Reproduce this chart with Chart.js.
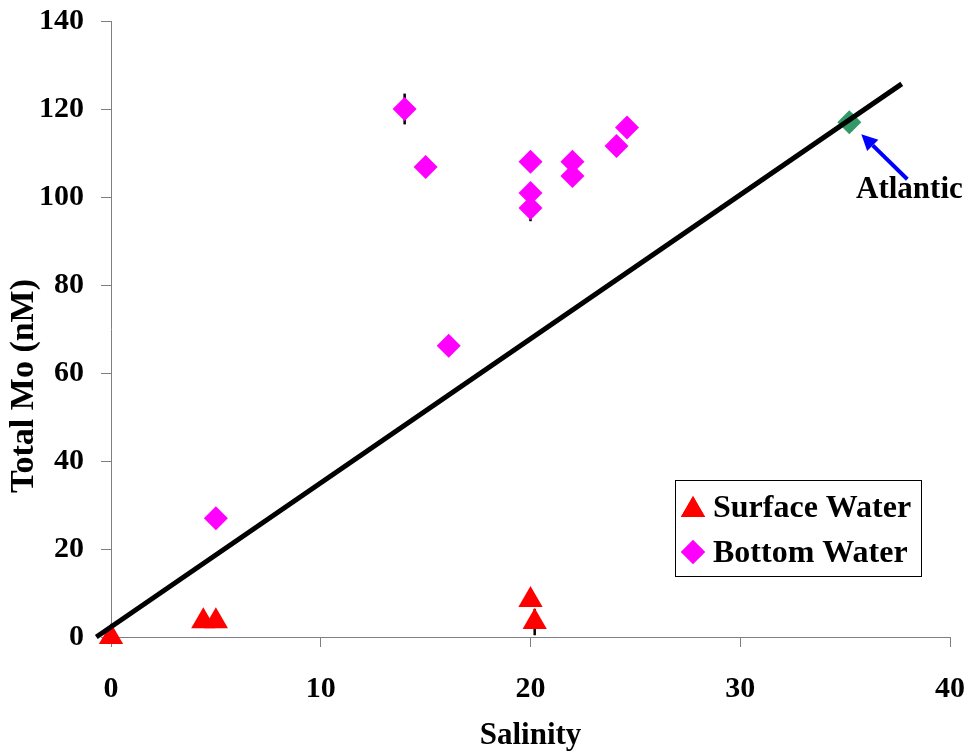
<!DOCTYPE html>
<html>
<head>
<meta charset="utf-8">
<script src="https://cdn.jsdelivr.net/npm/chart.js@4"></script>
<style>
    html, body { margin: 0; padding: 0; background: #fff; }
    #wrap { width: 972px; height: 755px; }
</style>
</head>
<body>
<div id="wrap"><canvas id="moChart" width="972" height="755"></canvas></div>
<script>
// Surface water samples
const surfSalinity = [0, 4.4, 5.0, 20.0, 20.2];
const surfMo = [0, 3.6, 3.6, 8.4, 3.4];
const surfErr = [0, 0, 0, 0, 3];

// Bottom water samples
const bottomSalinity = [5.0, 14.0, 15.0, 16.1, 20.0, 20.0, 20.0, 22.0, 22.0, 24.1, 24.6];
const bottomMo = [27, 120, 106.8, 66.2, 108, 100.9, 97.5, 108, 104.8, 111.6, 115.8];
const bottomErr = [0, 3.5, 0, 0, 0, 0, 3, 0, 0, 0, 0];

// Atlantic end member
const atlanticSalinity = [35.2];
const atlanticMo = [117];

// Conservative mixing line
const fitSalinity = [-0.7, 37.7];
const fitMo = [0, 125.7];

const xTicks = [0, 10, 20, 30, 40];
const yTicks = [0, 20, 40, 60, 80, 100, 120, 140];

const SERIF = '"Liberation Serif", "Times New Roman", Times, serif';
const AXIS_GRAY = '#7f7f7f';

function toPoints(xs, ys) {
    return xs.map((x, i) => ({ x: x, y: ys[i] }));
}

// Fix the axis box size and drop the automatic label padding
function fitAxis(size, isX) {
    return function (s) {
        if (isX) s.height = size; else s.width = size;
        s.paddingTop = 0;
        s.paddingBottom = 0;
        s.paddingLeft = 0;
        s.paddingRight = 0;
    };
}

/**
 * Error bars, axis titles, legend box and the Atlantic arrow
 */
const extrasPlugin = {
    id: 'extras',
    beforeDatasetsDraw(chart) {
        const ctx = chart.ctx;
        const xs = chart.scales.x;
        const ys = chart.scales.y;
        ctx.save();
        ctx.strokeStyle = '#000';
        ctx.lineWidth = 2.5;
        const bars = [[surfSalinity, surfMo, surfErr], [bottomSalinity, bottomMo, bottomErr]];
        bars.forEach(([sx, sy, se]) => {
            sx.forEach((x, i) => {
                if (!se[i]) return;
                const px = xs.getPixelForValue(x);
                ctx.beginPath();
                ctx.moveTo(px, ys.getPixelForValue(sy[i] - se[i]));
                ctx.lineTo(px, ys.getPixelForValue(sy[i] + se[i]));
                ctx.stroke();
            });
        });
        ctx.restore();
    },
    afterDraw(chart) {
        const ctx = chart.ctx;
        const area = chart.chartArea;
        const xs = chart.scales.x;
        const ys = chart.scales.y;
        ctx.save();

        // axis titles
        ctx.fillStyle = '#000';
        ctx.textAlign = 'center';
        ctx.textBaseline = 'alphabetic';
        ctx.font = 'bold 31px ' + SERIF;
        ctx.fillText('Salinity', (area.left + area.right) / 2, 744);
        ctx.save();
        ctx.translate(33, 386);
        ctx.rotate(-Math.PI / 2);
        ctx.font = 'bold 34px ' + SERIF;
        ctx.fillText('Total Mo (nM)', 0, 0);
        ctx.restore();

        // legend
        ctx.strokeStyle = '#000';
        ctx.lineWidth = 1;
        ctx.strokeRect(675.5, 480.5, 246, 96);
        ctx.textAlign = 'left';
        ctx.font = 'bold 32px ' + SERIF;
        ctx.fillStyle = '#ff0000';
        ctx.beginPath();
        Chart.helpers.drawPoint(ctx, { pointStyle: 'triangle', radius: 14, borderWidth: 0 }, 693, 510);
        ctx.fill();
        ctx.fillStyle = '#ff00ff';
        ctx.beginPath();
        Chart.helpers.drawPoint(ctx, { pointStyle: 'rectRot', radius: 12, borderWidth: 0 }, 693, 552);
        ctx.fill();
        ctx.fillStyle = '#000';
        ctx.fillText('Surface Water', 713, 517);
        ctx.fillText('Bottom Water', 713, 562);

        // Atlantic arrow and label
        const ax = xs.getPixelForValue(atlanticSalinity[0]);
        const ay = ys.getPixelForValue(atlanticMo[0]);
        const tipX = ax + 12, tipY = ay + 12;
        const tailX = ax + 58, tailY = ay + 57;
        const ang = Math.atan2(tipY - tailY, tipX - tailX);
        const headLen = 16, headW = 8;
        const baseX = tipX - headLen * Math.cos(ang);
        const baseY = tipY - headLen * Math.sin(ang);
        ctx.strokeStyle = '#0000ff';
        ctx.fillStyle = '#0000ff';
        ctx.lineWidth = 4;
        ctx.beginPath();
        ctx.moveTo(tailX, tailY);
        ctx.lineTo(baseX, baseY);
        ctx.stroke();
        ctx.beginPath();
        ctx.moveTo(tipX, tipY);
        ctx.lineTo(baseX + headW * Math.sin(ang), baseY - headW * Math.cos(ang));
        ctx.lineTo(baseX - headW * Math.sin(ang), baseY + headW * Math.cos(ang));
        ctx.closePath();
        ctx.fill();
        ctx.fillStyle = '#000';
        ctx.font = 'bold 31px ' + SERIF;
        ctx.fillText('Atlantic', 856, 198);

        ctx.restore();
    },
};

const tickFont = { family: SERIF, size: 30, weight: 'bold' };

new Chart(document.getElementById('moChart').getContext('2d'), {
    type: 'scatter',
    data: {
        datasets: [
            {
                label: 'Mixing line',
                data: toPoints(fitSalinity, fitMo),
                showLine: true,
                borderColor: '#000',
                borderWidth: 5,
                pointRadius: 0,
                clip: false,
            },
            {
                label: 'Surface Water',
                data: toPoints(surfSalinity, surfMo),
                pointStyle: 'triangle',
                pointRadius: 14,
                backgroundColor: '#ff0000',
                borderWidth: 0,
                clip: false,
            },
            {
                label: 'Bottom Water',
                data: toPoints(bottomSalinity, bottomMo),
                pointStyle: 'rectRot',
                pointRadius: 12,
                backgroundColor: '#ff00ff',
                borderWidth: 0,
                clip: false,
            },
            {
                label: 'Atlantic',
                data: toPoints(atlanticSalinity, atlanticMo),
                pointStyle: 'rectRot',
                pointRadius: 12,
                backgroundColor: '#339966',
                borderWidth: 0,
                clip: false,
            },
        ],
    },
    options: {
        responsive: false,
        animation: false,
        events: [],
        devicePixelRatio: 1,
        layout: { padding: { left: 0, right: 22, top: 21, bottom: 0 } },
        scales: {
            x: {
                type: 'linear',
                min: 0,
                max: 40,
                afterBuildTicks: (s) => { s.ticks = xTicks.map((v) => ({ value: v })); },
                afterFit: fitAxis(118, true),
                ticks: { font: tickFont, color: '#000', padding: 24, maxRotation: 0 },
                grid: { display: true, drawOnChartArea: false, tickLength: 10, color: AXIS_GRAY },
                border: { color: AXIS_GRAY, width: 1 },
            },
            y: {
                type: 'linear',
                min: 0,
                max: 140,
                afterBuildTicks: (s) => { s.ticks = yTicks.map((v) => ({ value: v })); },
                afterFit: fitAxis(111, false),
                ticks: { font: tickFont, color: '#000', padding: 17 },
                grid: { display: true, drawOnChartArea: false, tickLength: 10, color: AXIS_GRAY },
                border: { color: AXIS_GRAY, width: 1 },
            },
        },
        plugins: {
            legend: { display: false },
            tooltip: { enabled: false },
        },
    },
    plugins: [extrasPlugin],
});
</script>
</body>
</html>
